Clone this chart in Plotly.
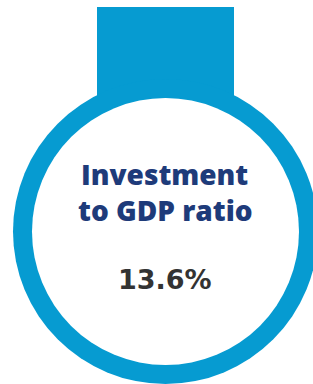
import plotly.graph_objects as go

# Data
metric_label = ["Investment", "to GDP ratio"]
metric_value = [13.6]
value_suffix = ["%"]

BLUE = "#069BD1"
NAVY = "#1E3B7A"
GRAY = "#333333"

W, H = 313, 384
fig = go.Figure()

# decorative shapes (pixel-space axes)
fig.add_shape(type="rect", x0=97, x1=234, y0=7, y1=130, fillcolor=BLUE, line_width=0, layer="below")
fig.add_shape(type="circle", x0=13, x1=318, y0=79, y1=384, fillcolor=BLUE, line_width=0, layer="below")
fig.add_shape(type="circle", x0=32, x1=299, y0=98, y1=365, fillcolor="white", line_width=0, layer="below")

fig.add_annotation(x=164, y=174, text=metric_label[0], showarrow=False,
                   font=dict(family="Open Sans", size=28, color=NAVY, weight=800), yanchor="middle")
fig.add_annotation(x=165, y=210, text=metric_label[1], showarrow=False,
                   font=dict(family="Open Sans", size=28, color=NAVY, weight=800), yanchor="middle")
fig.add_annotation(x=165, y=279, text=f"{metric_value[0]:.1f}{value_suffix[0]}", showarrow=False,
                   font=dict(family="DejaVu Sans", size=27, color=GRAY, weight=700), yanchor="middle")

fig.update_layout(
    width=W, height=H, margin=dict(l=0, r=0, t=0, b=0),
    paper_bgcolor="white", plot_bgcolor="white", showlegend=False,
    xaxis=dict(range=[0, W], visible=False, fixedrange=True),
    yaxis=dict(range=[H, 0], visible=False, fixedrange=True),
)
fig.write_html("out.html", config={"displayModeBar": False},
               post_script="document.body.style.margin='0';document.body.style.overflow='hidden';")
